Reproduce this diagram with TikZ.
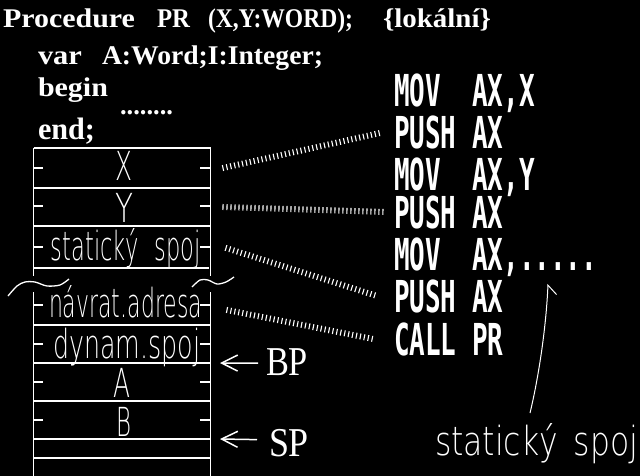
\documentclass[tikz,border=0pt]{standalone}
\usepackage{fontspec}
\usepackage{graphicx}
\setmainfont{Liberation Serif}
\newfontfamily\asmfont[FakeStretch=0.59]{DejaVu Sans Mono}
\IfFontExistsTF{DejaVu Sans ExtraLight}{\newfontfamily\stkfont{DejaVu Sans ExtraLight}}{\newfontfamily\stkfont{DejaVu Sans}}
\usetikzlibrary{arrows.meta,decorations.pathreplacing,calc}
\newcommand\fitw[2]{\resizebox{#1pt}{\height}{#2}}
\tikzset{
  txt/.style={inner sep=0pt, outer sep=0pt, anchor=base west, text=white},
  toptxt/.style={txt, font=\bfseries\fontsize{27}{30}\selectfont},
  asm/.style={txt, font=\asmfont\bfseries\fontsize{44}{48}\selectfont},
  stk/.style={inner sep=0pt, outer sep=0pt, anchor=base, text=white, font=\stkfont\fontsize{40}{44}\selectfont},
  reg/.style={txt, font=\fontsize{41}{44}\selectfont},
  frame/.style={white, line width=1pt},
  sepline/.style={white, line width=2pt},
  tickmark/.style={white, line width=2.5pt},
  wave/.style={white, line width=1.3pt},
  hatch/.style={white, line width=1.1pt, decorate, decoration={ticks, segment length=4pt, amplitude=3pt}},
  ptr/.style={white, line width=1.5pt, -{Straight Barb[length=16pt,width=16pt]}},
}
\begin{document}
\begin{tikzpicture}[x=1pt,y=-1pt]
\fill[black] (0,0) rectangle (640,476);
\useasboundingbox (0,0) rectangle (640,476);

% header text
\node[toptxt] (t1) at (3,28) {\fitw{132}{Procedure}};
\node[toptxt] (t2) at (157,28) {\fitw{33}{PR}};
\node[toptxt] (t3) at (208,28) {\fitw{145}{(X,Y:WORD);}};
\node[toptxt] (t4) at (383,28) {\fitw{108}{\{lokální\}}};
\node[toptxt] (v1) at (38,65) {\fitw{44}{var}};
\node[toptxt] (v2) at (102,65) {\fitw{221}{A:Word;I:Integer;}};
\node[toptxt] (b1) at (38,97) {\fitw{70}{begin}};
\node[toptxt] (d1) at (120,115) {\fitw{53}{........}};
\node[toptxt, font=\bfseries\fontsize{31}{34}\selectfont] (e1) at (38,140) {\fitw{57}{end;}};

% stack frame, upper part
\draw[frame] (33.5,148) -- (33.5,276);
\draw[frame] (210.5,148) -- (210.5,276);
\draw[sepline] (33.5,148) -- (210.5,148);
\draw[sepline] (33.5,188) -- (210.5,188);
\draw[sepline] (33.5,226) -- (210.5,226);
\draw[sepline] (33.5,268) -- (209,268);
% lower part
\draw[frame] (33.5,292) -- (33.5,476);
\draw[frame] (210.5,292) -- (210.5,476);
\foreach \yy in {325,363,401,439,458} {\draw[sepline] (33.5,\yy) -- (210.5,\yy);}
\foreach \yy in {168,206,247,305,344,382,420} {
  \draw[tickmark] (33.5,\yy) -- (43,\yy);
  \draw[tickmark] (200,\yy) -- (210.5,\yy);
}
% break marks
\draw[wave] plot[smooth] coordinates {(8,296) (17,286) (25,282) (35,282) (47,286) (60,285) (69,279)};
\draw[wave] plot[smooth] coordinates {(192,287) (200,280) (208,280) (217,284) (226,282) (234,277)};

% stack labels
\node[stk] (sX) at (124,181) {\fitw{17}{X}};
\node[stk] (sY) at (124,222) {\fitw{18}{Y}};
\node[stk] (sS) at (126,260) {\fitw{150}{statický\hspace{0.7em}spoj}};
\node[stk] (sR) at (125.5,317) {\fitw{153}{návrat.adresa}};
\node[stk] (sD) at (126.5,358) {\fitw{147}{dynam.spoj}};
\node[stk] (sA) at (121.5,397) {\fitw{17}{A}};
\node[stk] (sB) at (124,436) {\fitw{15}{B}};

% assembly
\node[asm] (m1) at (394,107) {MOV\phantom{MM}AX,X};
\node[asm] (p1) at (394,149) {PUSH\phantom{M}AX};
\node[asm] (m2) at (394,190) {MOV\phantom{MM}AX,Y};
\node[asm] (p2) at (394,228) {PUSH\phantom{M}AX};
\node[asm] (m3) at (394,270) {MOV\phantom{MM}AX,.....};
\node[asm] (p3) at (394,312) {PUSH\phantom{M}AX};
\node[asm] (c1) at (394,355) {CALL\phantom{M}PR};

% hatched connectors
\coordinate (hX) at (223,168);
\coordinate (hY) at (223,207);
\coordinate (hS) at (226,248);
\coordinate (hR) at (227,310);
\draw[hatch] (hX) -- ([xshift=-14pt]p1.west);
\draw[hatch] (hY) -- ([xshift=-9pt]p2.west);
\draw[hatch] (hS) -- ([xshift=-17pt]p3.west);
\draw[hatch] (hR) -- ([xshift=-21pt]c1.west);

% BP / SP
\node[reg] (BP) at (266,375) {\fitw{42}{BP}};
\node[reg] (SP) at (269,456) {\fitw{40}{SP}};
\coordinate (bpTip) at (220,363);
\coordinate (spTip) at (220,439);
\draw[ptr] ([xshift=-8pt,yshift=-1.5pt]BP.west) -- (bpTip);
\draw[ptr] ([xshift=-12pt,yshift=3pt]SP.west) -- (spTip);

% static link note
\node[stk, anchor=base west] (ss) at (435,455) {\fitw{203}{statický\hspace{0.5em}spoj}};
\coordinate (cs) at (530,413);
\coordinate (dTip) at (548,284);
\draw[white, line width=1pt, -{Straight Barb[harpoon,swap,length=9pt,width=18pt]}] (cs) .. controls (538,380) and (546,330) .. (dTip);
\end{tikzpicture}
\end{document}
